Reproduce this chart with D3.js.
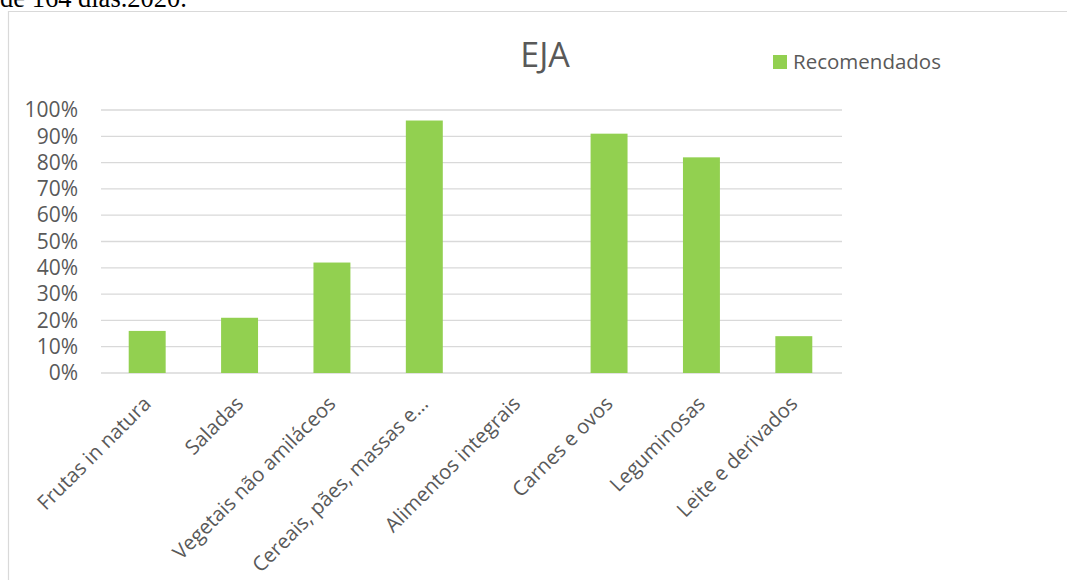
<!DOCTYPE html>
<html>
<head>
<meta charset="utf-8">
<script src="https://cdn.jsdelivr.net/npm/d3@7"></script>
<style>
  html, body { margin: 0; padding: 0; background: #fff; }
  svg { display: block; }
</style>
</head>
<body>
<svg id="chart" width="1067" height="580"></svg>
<script>
const categories = ["Frutas in natura", "Saladas", "Vegetais não amiláceos", "Cereais, pães, massas e…", "Alimentos integrais", "Carnes e ovos", "Leguminosas", "Leite e derivados"];
const recomendados = [0.16, 0.21, 0.42, 0.96, 0, 0.91, 0.82, 0.14];
const yTicks = [0, 0.1, 0.2, 0.3, 0.4, 0.5, 0.6, 0.7, 0.8, 0.9, 1.0];
const seriesName = "Recomendados";
const chartTitle = "EJA";
const captionText = "de 164 dias.2020.";

const svg = d3.select("#chart");
const font = "'Open Sans', 'Noto Sans', sans-serif";
const grey = "#595959";
const green = "#92d050";

// caption above chart (cut off in the reference too)
svg.append("text").attr("x", 0).attr("y", 7)
  .attr("font-family", "'Liberation Serif', 'Times New Roman', serif")
  .attr("font-size", 26.5).attr("fill", "#000").text(captionText);

// chart frame
svg.append("path").attr("d", "M8.5,580 V11.5 H1067")
  .attr("fill", "none").attr("stroke", "#d9d9d9").attr("stroke-width", 1.2);

const x = d3.scaleBand().domain(categories).range([101, 840]).paddingInner(0.6).paddingOuter(0.3);
const y = d3.scaleLinear().domain([0, 1]).range([373, 110]);

// gridlines
svg.append("g").selectAll("line").data(yTicks).join("line")
  .attr("x1", 101).attr("x2", 842)
  .attr("y1", d => y(d)).attr("y2", d => y(d))
  .attr("stroke", "#d9d9d9").attr("stroke-width", 1.3);

// y axis labels
const yAxis = d3.axisLeft(y).tickValues(yTicks).tickFormat(d3.format(".0%")).tickSize(0).tickPadding(0);
const gy = svg.append("g").attr("transform", "translate(78,0)").call(yAxis);
gy.select(".domain").remove();
gy.selectAll("text").attr("font-family", font).attr("font-size", 21).attr("fill", grey);

// bars
svg.append("g").selectAll("rect").data(recomendados).join("rect")
  .attr("x", (d, i) => x(categories[i]))
  .attr("width", x.bandwidth())
  .attr("y", d => y(d))
  .attr("height", d => y(0) - y(d))
  .attr("fill", green);

// x axis labels
const xAxis = d3.axisBottom(x).tickSize(0).tickPadding(0);
const gx = svg.append("g").attr("transform", "translate(0,373)").call(xAxis);
gx.select(".domain").remove();
gx.selectAll("text")
  .attr("font-family", font).attr("font-size", 20.3).attr("fill", grey)
  .attr("text-anchor", "end")
  .attr("dy", 0)
  .attr("y", 0)
  .attr("transform", "translate(5,32) rotate(-45)");

// title
svg.append("text").attr("x", 545).attr("y", 67).attr("text-anchor", "middle")
  .attr("font-family", font).attr("font-size", 34).attr("fill", grey).text(chartTitle);

// legend
svg.append("rect").attr("x", 773).attr("y", 55).attr("width", 14).attr("height", 14).attr("fill", green);
svg.append("text").attr("x", 793).attr("y", 69)
  .attr("font-family", font).attr("font-size", 20.5).attr("fill", grey).text(seriesName);
</script>
</body>
</html>
